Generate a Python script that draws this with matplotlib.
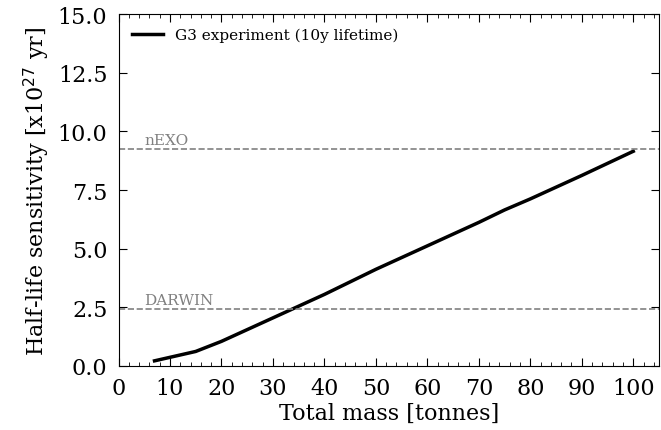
import matplotlib.pyplot as plt
import numpy as np
from matplotlib.ticker import MultipleLocator

# G3 experiment sensitivity vs total mass
mass = [7, 15, 20, 30, 40, 50, 60, 70, 75, 80, 90, 100]
halflife = [0.22, 0.62, 1.05, 2.05, 3.05, 4.12, 5.12, 6.12, 6.65, 7.12, 8.12, 9.15]

# reference experiments
ref_names = ['nEXO', 'DARWIN']
ref_values = [9.25, 2.45]

plt.rcParams['font.family'] = 'DejaVu Serif'

fig = plt.figure(figsize=(6.61, 4.31), dpi=100)
ax = fig.add_axes([118.5 / 661, 1 - 367 / 431, (659 - 118.5) / 661, (367 - 15) / 431])

ax.plot(mass, halflife, color='black', linewidth=2.5, label='G3 experiment (10y lifetime)')

for name, val in zip(ref_names, ref_values):
    ax.axhline(val, color='gray', linestyle='--', linewidth=1.2)
    ax.text(5, val + 0.08, name, color='gray', fontsize=11, va='bottom')

ax.set_xlim(0, 105)
ax.set_ylim(0, 15)
ax.xaxis.set_major_locator(MultipleLocator(10))
ax.xaxis.set_minor_locator(MultipleLocator(2))
ax.yaxis.set_major_locator(MultipleLocator(2.5))
ax.tick_params(axis='both', which='both', direction='in', top=True, right=True, labelsize=16)
ax.tick_params(axis='both', which='major', length=6, pad=8)
ax.tick_params(axis='x', which='minor', length=3)

ax.set_xlabel('Total mass [tonnes]', fontsize=16, labelpad=2)
ax.set_ylabel('Half-life sensitivity [x10$^{27}$ yr]', fontsize=16, labelpad=4)
ax.legend(loc='upper left', frameon=False, fontsize=11)

fig.savefig('out.png', dpi=100)
